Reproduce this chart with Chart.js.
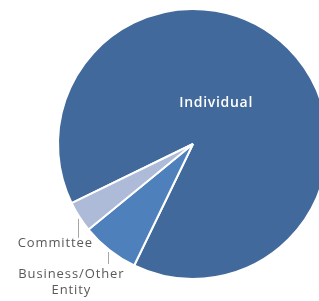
<!DOCTYPE html>
<html>
<head>
<meta charset="utf-8">
<script src="https://cdn.jsdelivr.net/npm/chart.js@4"></script>
<style>
  html, body { margin: 0; padding: 0; background: #fff; overflow: hidden; }
  #wrap { position: absolute; left: 0; top: 0; width: 386px; height: 301px; }
</style>
</head>
<body>
<div id="wrap"><canvas id="pie" width="386" height="301"></canvas></div>
<script>
const categories = ['Individual', 'Business/Other Entity', 'Committee'];
const shares = [89.4, 6.9, 3.7];
const sliceColors = ['#41699b', '#4e80bc', '#adbbd9'];

// labels drawn next to the slices
const labelPlugin = {
  id: 'sliceLabels',
  afterDatasetsDraw(chart) {
    const ctx = chart.ctx;
    const arcs = chart.getDatasetMeta(0).data;
    ctx.save();
    ctx.textAlign = 'center';
    ctx.textBaseline = 'middle';

    // big slice: label inside
    const big = arcs[0];
    const a0 = -60.5 * Math.PI / 180;
    ctx.fillStyle = '#ffffff';
    ctx.font = '600 14px "Open Sans"';
    ctx.letterSpacing = '0.7px';
    ctx.fillText(categories[0], big.x + Math.cos(a0) * 47, big.y + Math.sin(a0) * 47);

    // small slices: leader line from the rim down, then text
    const outside = [
      { i: 2, len: 19, dx: -24, dy: 5, lines: ['Committee'] },
      { i: 1, len: 12, dx: -38, dy: 10, lines: ['Business/Other', 'Entity'] }
    ];
    ctx.font = '13px "Open Sans"';
    ctx.letterSpacing = '0.9px';
    outside.forEach(o => {
      const arc = arcs[o.i];
      const mid = (arc.startAngle + arc.endAngle) / 2;
      const ex = arc.x + Math.cos(mid) * arc.outerRadius;
      const ey = arc.y + Math.sin(mid) * arc.outerRadius;
      ctx.strokeStyle = '#a6a6a6';
      ctx.lineWidth = 1;
      ctx.beginPath();
      ctx.moveTo(Math.round(ex) - 0.5, ey + 2);
      ctx.lineTo(Math.round(ex) - 0.5, ey + 2 + o.len);
      ctx.stroke();
      ctx.fillStyle = '#595959';
      o.lines.forEach((t, k) => {
        ctx.fillText(t, ex + o.dx, ey + 2 + o.len + o.dy + k * 16);
      });
    });
    ctx.restore();
  }
};

new Chart(document.getElementById('pie'), {
  type: 'pie',
  data: {
    labels: categories,
    datasets: [{
      data: shares,
      backgroundColor: sliceColors,
      borderColor: '#ffffff',
      borderWidth: 2
    }]
  },
  options: {
    responsive: false,
    animation: false,
    rotation: 244,
    layout: { padding: { top: 8, bottom: 21, left: 8, right: 8 } },
    plugins: {
      legend: { display: false },
      tooltip: { enabled: false }
    }
  },
  plugins: [labelPlugin]
});
</script>
</body>
</html>
